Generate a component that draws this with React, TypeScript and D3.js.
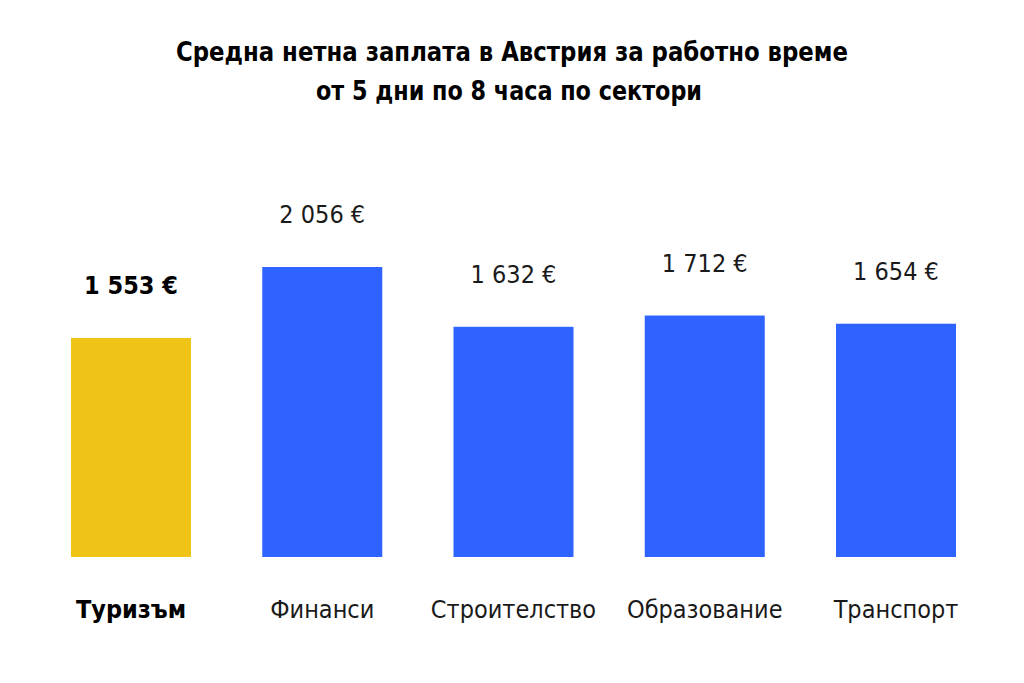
import * as d3 from "d3";

// Data
const categories = ["Туризъм", "Финанси", "Строителство", "Образование", "Транспорт"];
const values = [1553, 2056, 1632, 1712, 1654];
const valueLabels = ["1 553 €", "2 056 €", "1 632 €", "1 712 €", "1 654 €"];
const highlighted = ["Туризъм"];
const titleLines = [
  "Средна нетна заплата в Австрия за работно време",
  "от 5 дни по 8 часа по сектори",
];

const W = 1024;
const H = 683;
const FONT = "'DejaVu Sans Condensed', 'Liberation Sans Narrow', 'DejaVu Sans', sans-serif";
const YELLOW = "#F0C416";
const BLUE = "#2F63FF";

export default function App() {
  const x = d3.scaleBand<string>().domain(categories).range([71, 956]).paddingInner(0.3725).paddingOuter(0);
  const y = d3.scaleLinear().domain([0, 2056]).range([557, 267]);

  return (
    <svg
      width={W}
      height={H}
      style={{ position: "absolute", left: 0, top: 0, background: "#fff" }}
      fontFamily={FONT}
    >
      {/* Title */}
      <g fontWeight="bold" fontSize={27} fill="#000" textAnchor="middle">
        <text x={512} y={61} textLength={672} lengthAdjust="spacingAndGlyphs">
          {titleLines[0]}
        </text>
        <text x={509} y={100} textLength={386} lengthAdjust="spacingAndGlyphs">
          {titleLines[1]}
        </text>
      </g>

      {/* Bars */}
      {categories.map((c, i) => {
        const hi = highlighted.includes(c);
        const bx = x(c)!;
        const cx = bx + x.bandwidth() / 2;
        return (
          <g key={c}>
            <rect
              x={bx}
              y={y(values[i])}
              width={x.bandwidth()}
              height={y(0) - y(values[i])}
              fill={hi ? YELLOW : BLUE}
            />
            <text
              x={cx}
              y={y(values[i]) - 44}
              textAnchor="middle"
              fontSize={25}
              fontWeight={hi ? "bold" : "normal"}
              fill={hi ? "#000" : "#1a1a1a"}
            >
              {valueLabels[i]}
            </text>
            <text
              x={cx}
              y={618}
              textAnchor="middle"
              fontSize={25}
              fontWeight={hi ? "bold" : "normal"}
              fill={hi ? "#000" : "#1a1a1a"}
            >
              {c}
            </text>
          </g>
        );
      })}
    </svg>
  );
}
